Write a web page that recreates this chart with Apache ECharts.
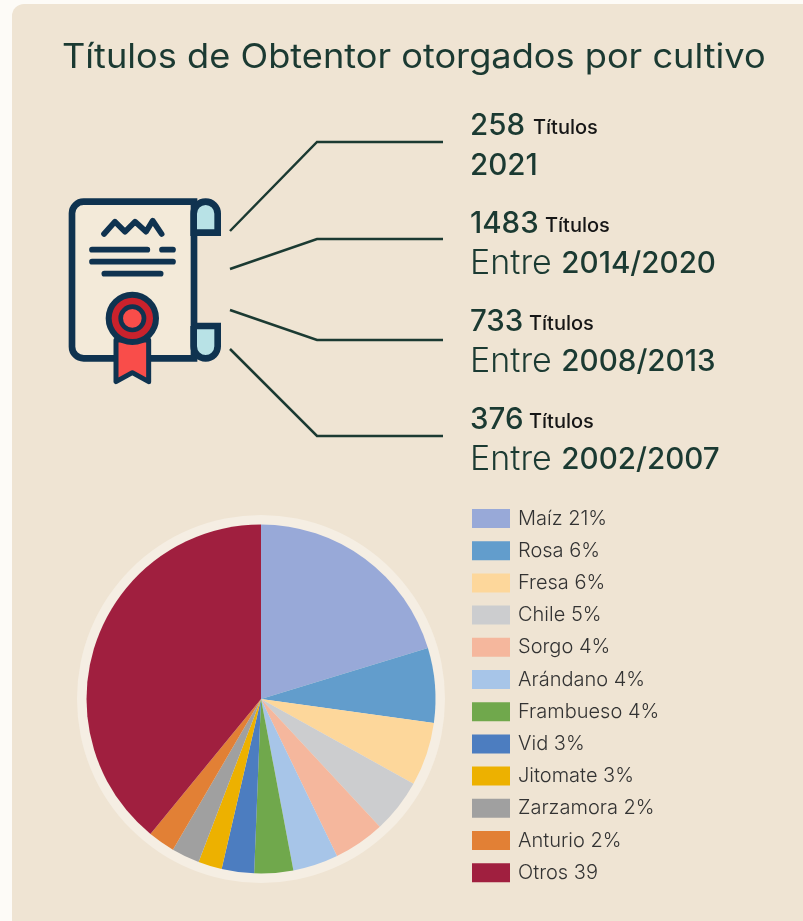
<!DOCTYPE html>
<html>
<head>
<meta charset="utf-8">
<title>Títulos de Obtentor</title>
<script src="https://cdn.jsdelivr.net/npm/echarts@6/dist/echarts.min.js"></script>
<style>
html, body { margin: 0; padding: 0; background: #fdfbf7; }
#chart { width: 803px; height: 921px; }
</style>
</head>
<body>
<div id="chart"></div>
<script>
var FONT = 'Inter, "Open Sans", sans-serif';
var DARK = '#1b3a32';
var NAVY = '#0f3350';

var categories = ['Maíz', 'Rosa', 'Fresa', 'Chile', 'Sorgo', 'Arándano', 'Frambueso', 'Vid', 'Jitomate', 'Zarzamora', 'Anturio', 'Otros'];
var shownPct = ['21%', '6%', '6%', '5%', '4%', '4%', '4%', '3%', '3%', '2%', '2%', '39'];
var sliceValues = [20.3, 6.9, 5.9, 5.0, 4.75, 4.2, 3.6, 3.0, 2.2, 2.6, 2.5, 39.1];
var sliceColors = ['#98a9d8', '#629dcc', '#fdd79b', '#cccdcf', '#f5b79d', '#a7c5e8', '#70a84c', '#4c7dc0', '#edb100', '#a0a0a0', '#e28035', '#a01f3f'];

var titleCounts = ['258', '1483', '733', '376'];
var periodPrefix = ['', 'Entre ', 'Entre ', 'Entre '];
var periodNames = ['2021', '2014/2020', '2008/2013', '2002/2007'];

var chart = echarts.init(document.getElementById('chart'));

var pieData = categories.map(function (c, i) {
	return { name: c + ' ' + shownPct[i], value: sliceValues[i], itemStyle: { color: sliceColors[i] } };
});

var graphic = [
	{ type: 'rect', z: -10, shape: { x: 12, y: 4, width: 820, height: 960, r: 12 }, style: { fill: '#efe4d3' } },
	{ type: 'circle', z: -5, shape: { cx: 261, cy: 699, r: 184 }, style: { fill: '#f5eee3' } },
	{
		type: 'text', x: 62, y: 58, scaleX: 1.08,
		style: { x: 0, y: 0, text: 'Títulos de Obtentor otorgados por cultivo', font: '400 33.5px ' + FONT, fill: DARK, verticalAlign: 'middle' }
	}
];

// rows on the right, the count line then the period line
var rowY = [126, 224, 322, 420];
var smallX = [533, 545, 529, 529];
titleCounts.forEach(function (t, i) {
	graphic.push({ type: 'text', style: { x: 470, y: rowY[i], text: t, font: '500 29.5px ' + FONT, fill: DARK, verticalAlign: 'middle' } });
	graphic.push({ type: 'text', style: { x: smallX[i], y: rowY[i] + 2, text: 'Títulos', font: '500 20px ' + FONT, fill: '#161616', verticalAlign: 'middle' } });
	graphic.push({
		type: 'text',
		style: {
			x: 470, y: rowY[i] + 40, verticalAlign: 'middle',
			text: (periodPrefix[i] ? '{a|' + periodPrefix[i] + '}' : '') + '{b|' + periodNames[i] + '}',
			rich: {
				a: { font: '300 34px ' + FONT, fill: DARK },
				b: { font: '500 29.6px ' + FONT, fill: DARK }
			}
		}
	});
});

// connector lines from the icon to each row
var connectors = [
	[[230, 231], [317, 142], [443, 142]],
	[[230, 269], [317, 239], [443, 239]],
	[[230, 310], [317, 340], [443, 340]],
	[[230, 349], [317, 436], [443, 436]]
];
connectors.forEach(function (pts) {
	graphic.push({ type: 'polyline', shape: { points: pts }, style: { stroke: DARK, lineWidth: 2.5, fill: null } });
});

// certificate icon, drawn in zoomed coordinates and scaled down
var icon = { type: 'group', x: 50, y: 180, scaleX: 1 / 3, scaleY: 1 / 3, children: [] };
function iconLine(pts, w) {
	icon.children.push({ type: 'polyline', shape: { points: pts }, style: { fill: null, stroke: NAVY, lineWidth: w, lineCap: 'round', lineJoin: 'round' } });
}
icon.children.push({ type: 'rect', shape: { x: 66, y: 65, width: 366, height: 470, r: [35, 0, 0, 35] }, style: { fill: '#f3ead9', stroke: NAVY, lineWidth: 20 } });
icon.children.push({ type: 'rect', shape: { x: 431, y: 65, width: 72, height: 93, r: [36, 36, 0, 0] }, style: { fill: '#b8e2e6', stroke: NAVY, lineWidth: 20 } });
icon.children.push({ type: 'rect', shape: { x: 431, y: 438, width: 72, height: 97, r: [0, 0, 36, 36] }, style: { fill: '#b8e2e6', stroke: NAVY, lineWidth: 20 } });
iconLine([[162, 162], [195, 125], [225, 155], [255, 125], [288, 155], [308, 122], [335, 162]], 17);
iconLine([[126, 209], [292, 209]], 17);
iconLine([[336, 209], [369, 209]], 17);
iconLine([[126, 245], [369, 245]], 17);
iconLine([[163, 281], [332, 281]], 17);
icon.children.push({ type: 'polygon', shape: { points: [[198, 480], [296, 480], [296, 605], [247, 578], [198, 605]] }, style: { fill: '#f94d4a', stroke: NAVY, lineWidth: 15, lineJoin: 'round' } });
icon.children.push({ type: 'circle', shape: { cx: 247, cy: 415, r: 71 }, style: { fill: '#c9222c', stroke: NAVY, lineWidth: 18 } });
icon.children.push({ type: 'circle', shape: { cx: 247, cy: 415, r: 35 }, style: { fill: '#f94d4a', stroke: NAVY, lineWidth: 14 } });
graphic.push(icon);

var options = {
	animation: false,
	legend: {
		orient: 'vertical',
		left: 472,
		top: 506.5,
		padding: 0,
		itemWidth: 38,
		itemHeight: 19,
		itemGap: 8.2,
		icon: 'rect',
		selectedMode: false,
		textStyle: { fontFamily: FONT, fontWeight: 300, fontSize: 20, lineHeight: 19, color: '#333333', padding: [5, 0, 0, 3] }
	},
	graphic: graphic,
	series: [{
		type: 'pie',
		center: [261, 699],
		radius: [0, 174.5],
		startAngle: 90,
		silent: true,
		label: { show: false },
		labelLine: { show: false },
		data: pieData
	}]
};
chart.setOption(options);
</script>
</body>
</html>
